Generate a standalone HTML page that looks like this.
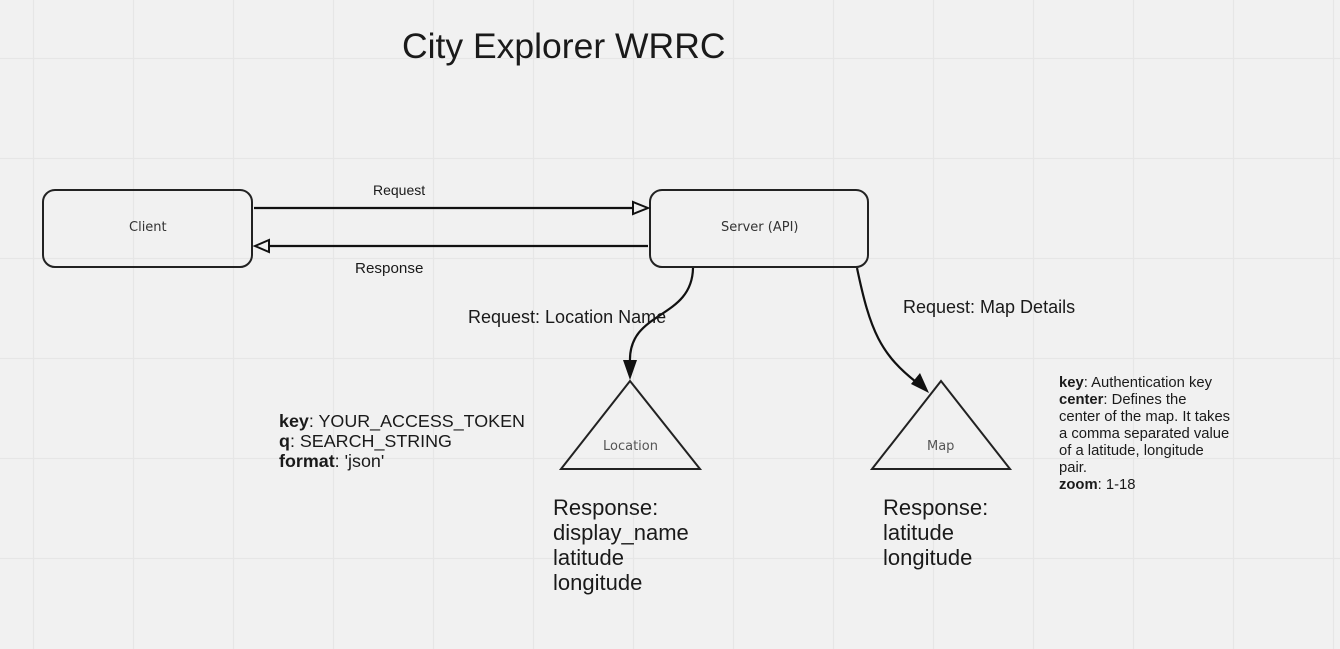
<!DOCTYPE html>
<html><head><meta charset="utf-8"><style>
html,body{margin:0;padding:0}
body{width:1340px;height:649px;position:relative;overflow:hidden;background:#f1f1f1;font-family:"Liberation Sans",sans-serif;color:#1a1a1a}
.t{position:absolute;white-space:nowrap}
.g{font-family:"DejaVu Sans","Liberation Sans",sans-serif;color:#333;font-size:13px}
</style></head><body>
<svg width="1340" height="649" style="position:absolute;left:0;top:0">
<g stroke="#e6e6e6" stroke-width="1.2">
<line x1="33.5" y1="0" x2="33.5" y2="649"/><line x1="133.5" y1="0" x2="133.5" y2="649"/><line x1="233.5" y1="0" x2="233.5" y2="649"/><line x1="333.5" y1="0" x2="333.5" y2="649"/><line x1="433.5" y1="0" x2="433.5" y2="649"/><line x1="533.5" y1="0" x2="533.5" y2="649"/><line x1="633.5" y1="0" x2="633.5" y2="649"/><line x1="733.5" y1="0" x2="733.5" y2="649"/><line x1="833.5" y1="0" x2="833.5" y2="649"/><line x1="933.5" y1="0" x2="933.5" y2="649"/><line x1="1033.5" y1="0" x2="1033.5" y2="649"/><line x1="1133.5" y1="0" x2="1133.5" y2="649"/><line x1="1233.5" y1="0" x2="1233.5" y2="649"/><line x1="1333.5" y1="0" x2="1333.5" y2="649"/>
<line x1="0" y1="58.5" x2="1340" y2="58.5"/><line x1="0" y1="158.5" x2="1340" y2="158.5"/><line x1="0" y1="258.5" x2="1340" y2="258.5"/><line x1="0" y1="358.5" x2="1340" y2="358.5"/><line x1="0" y1="458.5" x2="1340" y2="458.5"/><line x1="0" y1="558.5" x2="1340" y2="558.5"/>
</g>
<g fill="none" stroke="#222" stroke-width="2">
<rect x="43" y="190" width="209" height="77" rx="12"/>
<rect x="650" y="190" width="218" height="77" rx="12"/>
<polygon points="630,381 561,469 700,469"/>
<polygon points="941,381 872,469 1010,469"/>
</g>
<g stroke="#111" stroke-width="2.2" fill="none">
<line x1="254" y1="208" x2="633" y2="208"/>
<line x1="648" y1="246" x2="269" y2="246"/>
<path d="M693 268 C 692 320, 628 310, 630 362"/>
<path d="M857 268 C 870 330, 880 355, 920 385"/>
</g>
<polygon points="648,208 633,202 633,214" fill="#f1f1f1" stroke="#111" stroke-width="2"/>
<polygon points="255,246 269,240 269,252" fill="#f1f1f1" stroke="#111" stroke-width="2"/>
<polygon points="630,380 623,360 637,360" fill="#111"/>
<polygon points="929,393 911,384 920,373" fill="#111"/>
</svg>
<div class="t" style="left:402px;top:26px;font-size:35.5px">City Explorer WRRC</div>
<div class="t g" style="left:129px;top:220px">Client</div>
<div class="t g" style="left:721px;top:220px">Server (API)</div>
<div class="t g" style="left:603px;top:439px;color:#555">Location</div>
<div class="t g" style="left:927px;top:439px;color:#555">Map</div>
<div class="t" style="left:373px;top:182px;font-size:14px">Request</div>
<div class="t" style="left:355px;top:260px;font-size:15.2px">Response</div>
<div class="t" style="left:468px;top:307px;font-size:18px">Request: Location Name</div>
<div class="t" style="left:903px;top:297px;font-size:18px">Request: Map Details</div>
<div class="t" style="left:279px;top:411px;font-size:17.9px;line-height:20px"><b>key</b>: YOUR_ACCESS_TOKEN<br><b>q</b>: SEARCH_STRING<br><b>format</b>: 'json'</div>
<div class="t" style="left:553px;top:495px;font-size:22px;line-height:25px">Response:<br>display_name<br>latitude<br>longitude</div>
<div class="t" style="left:883px;top:495px;font-size:22px;line-height:25px">Response:<br>latitude<br>longitude</div>
<div class="t" style="left:1059px;top:375px;font-size:14.8px;line-height:17px"><b>key</b>: Authentication key<br><b>center</b>: Defines the<br>center of the map. It takes<br>a comma separated value<br>of a latitude, longitude<br>pair.<br><b>zoom</b>: 1-18</div>
</body></html>
